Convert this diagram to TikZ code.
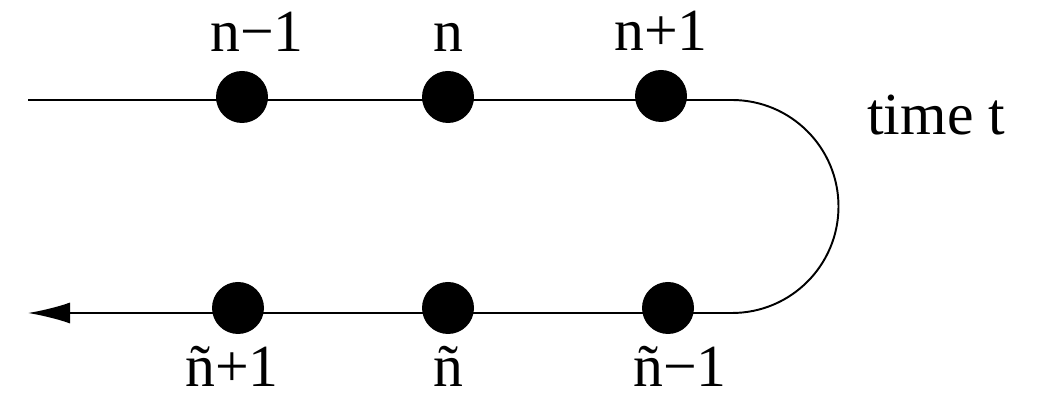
\documentclass[tikz,border=0pt]{standalone}
\usepackage{fontspec}
\setmainfont{Liberation Serif}
\usetikzlibrary{arrows.meta,positioning}

\begin{document}
\begin{tikzpicture}[
    site/.style={circle,fill=black,inner sep=0pt,minimum size=1.04cm},
    lbl/.style={inner sep=0pt,font=\fontsize{34}{40}\selectfont},
    wire/.style={line width=1.1pt}]
      \useasboundingbox (0,0) rectangle (20.86,7.94);
      \coordinate (inL) at (0.56,5.94);
      \coordinate (turn) at (14.64,5.94);
      \coordinate (outL) at (0.56,1.68);

      % the time path, forward on top and back below
      \draw[wire,-{Latex[length=0.84cm,width=0.42cm]}] (inL) -- (turn) arc[start angle=90,end angle=-90,radius=2.13] -- (outL);

      \node[site] (nm) at (4.84,6.0) {};
      \node[site] (n0) at (8.96,6.0) {};
      \node[site] (np) at (13.22,6.02) {};
      \node[site] (tp) at (4.76,1.78) {};
      \node[site] (t0) at (8.96,1.78) {};
      \node[site] (tm) at (13.36,1.78) {};

      \node[lbl,above=0.38cm of nm,xshift=0.3cm] (lnm) {n−1};
      \node[lbl,above=0.38cm of n0] (ln0) {n};
      \node[lbl,above=0.38cm of np] (lnp) {n+1};
      \node[lbl,below=0.24cm of tp,xshift=-0.12cm] (ltp) {ñ+1};
      \node[lbl,below=0.24cm of t0] (lt0) {ñ};
      \node[lbl,below=0.24cm of tm,xshift=0.24cm] (ltm) {ñ−1};
      \node[lbl,anchor=base west] (ltime) at (17.34,5.24) {time t};
    \end{tikzpicture}
\end{document}
